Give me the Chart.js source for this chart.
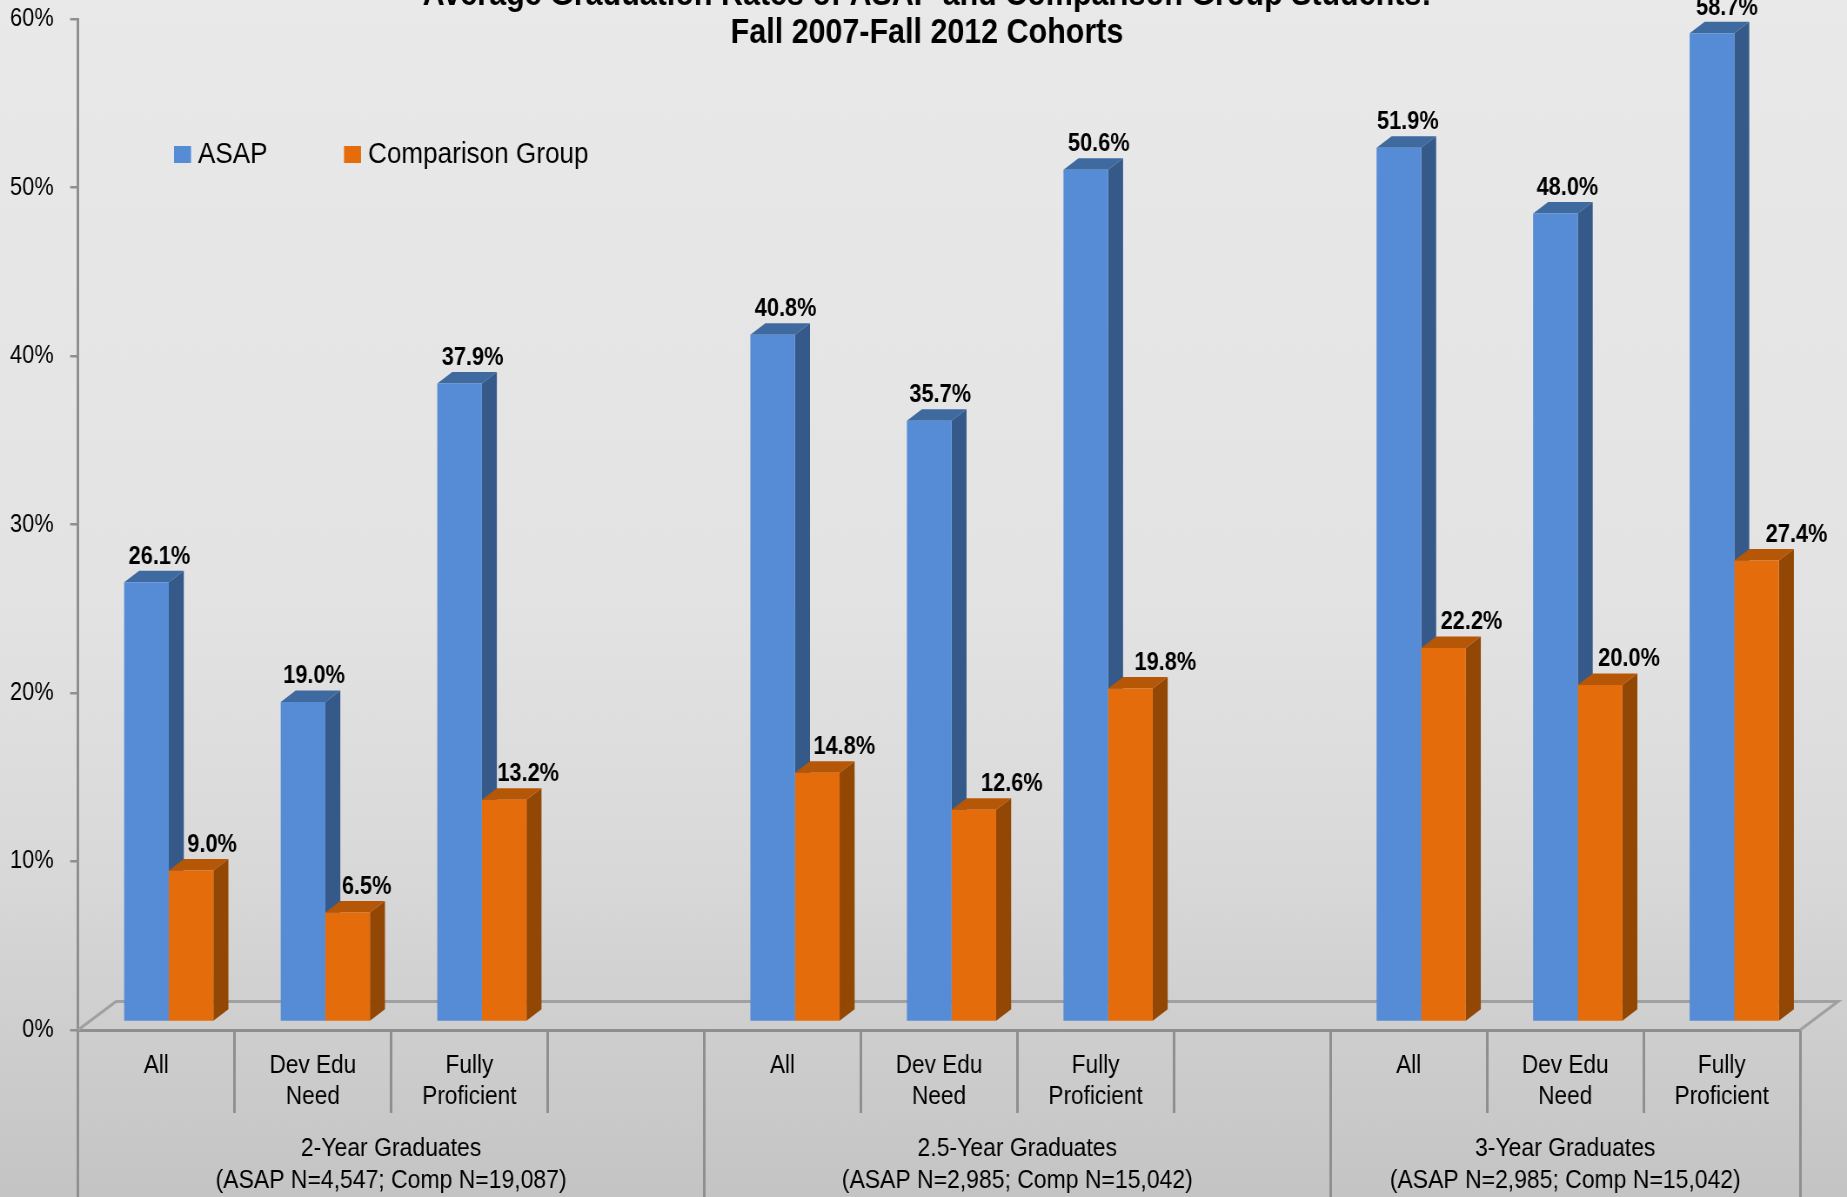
<!DOCTYPE html>
<html><head><meta charset="utf-8">
<script src="https://cdn.jsdelivr.net/npm/chart.js@4/dist/chart.umd.min.js"></script>
<style>
html,body{margin:0;padding:0;width:1847px;height:1197px;overflow:hidden;background:#d8d8d8}
#c{position:absolute;left:0;top:0;transform-origin:0 0;transform:scaleX(0.87)}
</style></head><body>
<canvas id="c" width="2123" height="1197"></canvas>
<script>
const categories=[["All"],["Dev Edu","Need"],["Fully","Proficient"],"",["All"],["Dev Edu","Need"],["Fully","Proficient"],"",["All"],["Dev Edu","Need"],["Fully","Proficient"]];
const asapValues=[26.1,19.0,37.9,null,40.8,35.7,50.6,null,51.9,48.0,58.7];
const comparisonValues=[9.0,6.5,13.2,null,14.8,12.6,19.8,null,22.2,20.0,27.4];
const groupLabels=[["2-Year Graduates","(ASAP N=4,547; Comp N=19,087)"],["2.5-Year Graduates","(ASAP N=2,985; Comp N=15,042)"],["3-Year Graduates","(ASAP N=2,985; Comp N=15,042)"]];
const groupEdges=[0,4,8,11];
const groupCenters=[2,6,9.5];
const titleLines=["Average Graduation Rates of ASAP and Comparison Group Students:","Fall 2007-Fall 2012 Cohorts"];
const seriesNames=["ASAP","Comparison Group"];
const asapLabelShift=[13,11,13,0,13,11,13,0,9,12,15];
const comparisonLabelShift=[21,19,24,0,27,38,35,0,28,29,40];

const SX=0.87, FONT="'Liberation Sans', Arial, sans-serif";
const AXIS="#8f8f8f";
const DEPTH_X=15/SX, DEPTH_Y=11.5, SHIFT_X=12.5/SX, SHIFT_Y=-8;
const shades=[{front:"#568cd6",side:"#355a8a",top:"#3f6aa0"},{front:"#e46c0a",side:"#934705",top:"#b55707"}];

function drawFaces(chart,index){
  const ctx=chart.ctx,s=shades[index];
  chart.getDatasetMeta(index).data.forEach((el,i)=>{
    if(chart.data.datasets[index].data[i]==null)return;
    const {x,y,base,width}=el.getProps(["x","y","base","width"],true);
    const l=x-width/2,r=x+width/2;
    ctx.fillStyle=s.side;ctx.beginPath();ctx.moveTo(r,y);ctx.lineTo(r+DEPTH_X,y-DEPTH_Y);ctx.lineTo(r+DEPTH_X,base-DEPTH_Y);ctx.lineTo(r,base);ctx.closePath();ctx.fill();
    ctx.fillStyle=s.top;ctx.beginPath();ctx.moveTo(l,y);ctx.lineTo(l+DEPTH_X,y-DEPTH_Y);ctx.lineTo(r+DEPTH_X,y-DEPTH_Y);ctx.lineTo(r,y);ctx.closePath();ctx.fill();
  });
}
const background={id:"background",beforeDraw(chart){
  const {ctx,width,height}=chart;
  const g=ctx.createLinearGradient(0,0,0,height);
  g.addColorStop(0,"#e9e9e9");g.addColorStop(0.5,"#e3e3e3");g.addColorStop(0.72,"#d9d9d9");g.addColorStop(1,"#c4c4c4");
  ctx.fillStyle=g;ctx.fillRect(0,0,width,height);
}};
const titlePlace={id:"titlePlace",afterLayout(chart){
  const center=927/SX;
  chart.titleBlock.left=0;chart.titleBlock.right=2*center;
}};
const floor={id:"floor",beforeDatasetsDraw(chart){
  const {ctx,chartArea:a}=chart;const dx=38/SX,dy=28.5;
  ctx.save();ctx.strokeStyle="#a0a0a0";ctx.lineWidth=3;ctx.beginPath();
  ctx.moveTo(a.left,a.bottom);ctx.lineTo(a.left+dx,a.bottom-dy);ctx.lineTo(a.right+dx,a.bottom-dy);ctx.lineTo(a.right,a.bottom);
  ctx.stroke();
  ctx.translate(SHIFT_X,SHIFT_Y);drawFaces(chart,0);
  ctx.restore();
}};
const bars3d={id:"bars3d",
  beforeDatasetDraw(chart,{index}){
    const ctx=chart.ctx;
    ctx.save();ctx.translate(SHIFT_X,SHIFT_Y);
    if(index===1)drawFaces(chart,1);
  },
  afterDatasetDraw(chart){chart.ctx.restore();},
  afterDatasetsDraw(chart){
    const ctx=chart.ctx;ctx.save();
    ctx.font="bold 25px "+FONT;ctx.fillStyle="#000";ctx.textAlign="center";ctx.textBaseline="middle";
    [asapLabelShift,comparisonLabelShift].forEach((shift,d)=>{
      chart.getDatasetMeta(d).data.forEach((el,i)=>{
        const v=chart.data.datasets[d].data[i];if(v==null)return;
        const {x,y}=el.getProps(["x","y"],true);
        ctx.fillText(v.toFixed(1)+"%",x+SHIFT_X+shift[i]/SX,y+SHIFT_Y-25.5);
      });
    });
    ctx.font="30px "+FONT;ctx.textAlign="left";
    const y=154.5,xs=[174/SX,344/SX];
    seriesNames.forEach((n,i)=>{
      ctx.fillStyle=shades[i].front;ctx.fillRect(xs[i],y-8.5,17/SX,17);
      ctx.fillStyle="#000";ctx.fillText(n,xs[i]+24/SX,y);
    });
    ctx.restore();
  }};

new Chart(document.getElementById("c"),{
  type:"bar",
  data:{labels:categories,datasets:[
    {label:seriesNames[0],data:asapValues,backgroundColor:shades[0].front,clip:false},
    {label:seriesNames[1],data:comparisonValues,backgroundColor:shades[1].front,clip:false}
  ]},
  plugins:[background,titlePlace,floor,bars3d],
  options:{
    responsive:false,animation:false,devicePixelRatio:1,
    layout:{padding:{left:0,right:54,top:19,bottom:0}},
    categoryPercentage:0.57,barPercentage:1,
    plugins:{
      legend:{display:false},tooltip:{enabled:false},
      title:{display:true,text:titleLines,color:"#000",font:{family:FONT,size:35,weight:"bold",lineHeight:1.09},padding:{top:-43,bottom:-33}}
    },
    scales:{
      y:{min:0,max:60,afterFit(s){s.width=78/SX;s.paddingTop=0;s.paddingBottom=0;},
        border:{display:true,color:AXIS,width:3},
        grid:{drawOnChartArea:false,drawTicks:true,tickLength:9,color:AXIS,lineWidth:2.5},
        ticks:{stepSize:10,padding:19,color:"#000",font:{family:FONT,size:25},callback:v=>v+"%"}},
      x:{type:"category",position:"bottom",offset:true,afterFit(s){s.height=83;},
        border:{display:true,color:AXIS,width:3},
        grid:{offset:true,drawOnChartArea:false,tickLength:83,color:AXIS,lineWidth:3},
        ticks:{padding:-63,autoSkip:false,maxRotation:0,color:"#000",font:{family:FONT,size:26,lineHeight:1.2}}},
      x2:{type:"linear",position:"bottom",min:0,max:11,offset:false,afterFit(s){s.height=84;},
        border:{display:false},
        afterBuildTicks(s){s.ticks=[...groupEdges,...groupCenters].sort((a,b)=>a-b).map(value=>({value}));},
        grid:{offset:false,drawOnChartArea:false,tickLength:84,lineWidth:3,color:c=>groupEdges.includes(c.tick&&c.tick.value)?AXIS:"rgba(0,0,0,0)"},
        ticks:{padding:-64,autoSkip:false,maxRotation:0,includeBounds:true,color:"#000",font:{family:FONT,size:26.4,lineHeight:1.2},
          callback:v=>{const i=groupCenters.indexOf(v);return i>=0?groupLabels[i]:"";}}}
    }
  }
});
</script>
</body></html>
